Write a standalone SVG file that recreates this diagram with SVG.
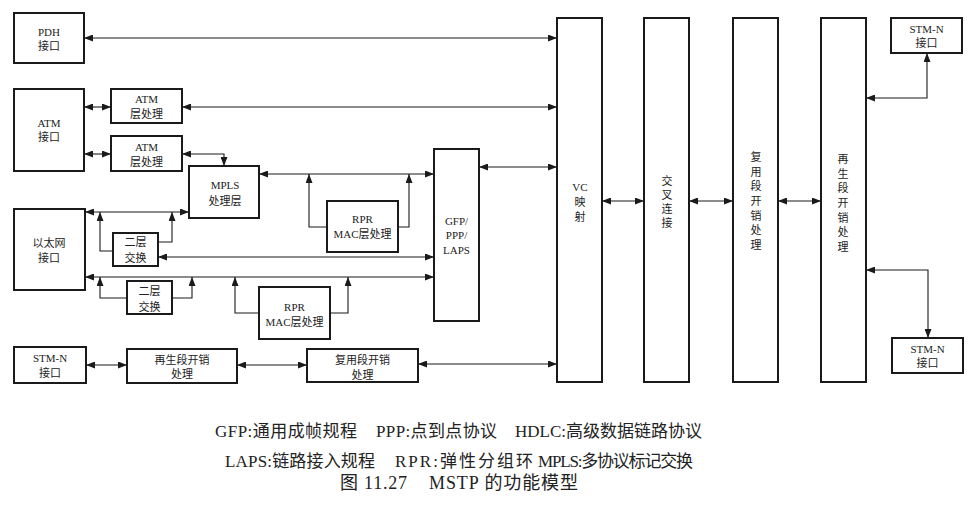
<svg xmlns="http://www.w3.org/2000/svg" width="979" height="508" viewBox="0 0 979 508">
<defs>
<marker id="ah" markerUnits="userSpaceOnUse" markerWidth="9" markerHeight="7" refX="9" refY="3.5" orient="auto-start-reverse"><path d="M0,0 L9,3.5 L0,7 z" fill="#1a1a1a"/></marker>
</defs>
<style>
.box{fill:#fff;stroke:#1a1a1a;stroke-width:2}
.t{font-family:"Liberation Serif","Noto Sans CJK SC",serif;font-size:11px;fill:#222;text-anchor:middle}
.c{fill:none;stroke:#1a1a1a;stroke-width:1.1}
.b{marker-start:url(#ah);marker-end:url(#ah)}
.e{marker-end:url(#ah)}
.cap{font-family:"Liberation Serif","Noto Sans CJK SC",serif;font-size:17px;fill:#222}
.cap3{font-family:"Liberation Serif","Noto Sans CJK SC",serif;font-size:18px;fill:#222}
</style>
<rect width="979" height="508" fill="#fff"/>
<g id="connectors">
<path class="c b" d="M84,38 H557"/>
<path class="c b" d="M84,107 H111"/>
<path class="c b" d="M84,154 H111"/>
<path class="c b" d="M182,107 H557"/>
<path class="c b" d="M182,154 H224 V166"/>
<path class="c b" d="M259,174 H434"/>
<path class="c e" d="M327,227 H309 V174"/>
<path class="c e" d="M398,227 H409 V174"/>
<path class="c b" d="M85,212 H189"/>
<path class="c e" d="M113,251 H100 V212"/>
<path class="c e" d="M158,242 H172 V212"/>
<path class="c b" d="M158,257 H434"/>
<path class="c b" d="M85,277 H434"/>
<path class="c e" d="M127,298 H100 V277"/>
<path class="c e" d="M172,298 H192 V277"/>
<path class="c e" d="M259,313 H235 V277"/>
<path class="c e" d="M330,313 H348 V277"/>
<path class="c b" d="M86,365 H127"/>
<path class="c b" d="M237,365 H307"/>
<path class="c b" d="M418,364 H557"/>
<path class="c b" d="M479,167 H557"/>
<path class="c b" d="M602,201 H644"/>
<path class="c b" d="M689,201 H733"/>
<path class="c b" d="M778,201 H821"/>
<path class="c b" d="M866,98 H927 V53"/>
<path class="c b" d="M866,270 H928 V338"/>
</g>
<g id="pdh"><rect class="box" x="14" y="13" width="70" height="50"/><text class="t" x="49" y="36">PDH</text><text class="t" x="49" y="50">接口</text></g>
<g id="atm-if"><rect class="box" x="14" y="89" width="70" height="82"/><text class="t" x="49" y="127">ATM</text><text class="t" x="49" y="141">接口</text></g>
<g id="atm1"><rect class="box" x="111" y="89" width="71" height="34"/><text class="t" x="146.5" y="103">ATM</text><text class="t" x="146.5" y="118">层处理</text></g>
<g id="atm2"><rect class="box" x="111" y="136" width="71" height="35"/><text class="t" x="146.5" y="151">ATM</text><text class="t" x="146.5" y="166">层处理</text></g>
<g id="mpls"><rect class="box" x="189" y="166" width="70" height="52"/><text class="t" x="225" y="189">MPLS</text><text class="t" x="225" y="205">处理层</text></g>
<g id="rpr1"><rect class="box" x="327" y="201" width="71" height="51"/><text class="t" x="362.5" y="223">RPR</text><text class="t" x="362.5" y="238">MAC层处理</text></g>
<g id="eth"><rect class="box" x="14" y="209" width="71" height="81"/><text class="t" x="49" y="247">以太网</text><text class="t" x="49" y="262">接口</text></g>
<g id="l2sw1"><rect class="box" x="113" y="233" width="45" height="33"/><text class="t" x="135.5" y="246">二层</text><text class="t" x="135.5" y="262">交换</text></g>
<g id="l2sw2"><rect class="box" x="127" y="281" width="45" height="33"/><text class="t" x="149.5" y="295">二层</text><text class="t" x="149.5" y="311">交换</text></g>
<g id="rpr2"><rect class="box" x="259" y="287" width="71" height="52"/><text class="t" x="294.5" y="311">RPR</text><text class="t" x="294.5" y="326">MAC层处理</text></g>
<g id="stm-bl"><rect class="box" x="14" y="347" width="72" height="36"/><text class="t" x="50" y="362">STM-N</text><text class="t" x="50" y="377">接口</text></g>
<g id="rs-oh"><rect class="box" x="127" y="349" width="110" height="34"/><text class="t" x="182" y="364">再生段开销</text><text class="t" x="182" y="378">处理</text></g>
<g id="ms-oh"><rect class="box" x="307" y="349" width="111" height="33"/><text class="t" x="362.5" y="364">复用段开销</text><text class="t" x="362.5" y="379">处理</text></g>
<g id="gfp"><rect class="box" x="434" y="149" width="45" height="172"/><text class="t" x="456.5" y="225">GFP/</text><text class="t" x="456.5" y="239">PPP/</text><text class="t" x="456.5" y="254">LAPS</text></g>
<g id="vc"><rect class="box" x="557" y="18" width="45" height="364"/><text class="t" x="580" y="191">VC</text><text class="t" x="580" y="206">映</text><text class="t" x="580" y="221">射</text></g>
<g id="xc"><rect class="box" x="644" y="18" width="45" height="364"/><text class="t" x="667" y="185">交</text><text class="t" x="667" y="199">叉</text><text class="t" x="667" y="213">连</text><text class="t" x="667" y="227">接</text></g>
<g id="ms"><rect class="box" x="733" y="18" width="45" height="364"/><text class="t" x="756" y="161">复</text><text class="t" x="756" y="176">用</text><text class="t" x="756" y="190">段</text><text class="t" x="756" y="205">开</text><text class="t" x="756" y="220">销</text><text class="t" x="756" y="234">处</text><text class="t" x="756" y="249">理</text></g>
<g id="rs"><rect class="box" x="821" y="18" width="45" height="364"/><text class="t" x="843" y="163">再</text><text class="t" x="843" y="178">生</text><text class="t" x="843" y="192">段</text><text class="t" x="843" y="207">开</text><text class="t" x="843" y="222">销</text><text class="t" x="843" y="236">处</text><text class="t" x="843" y="251">理</text></g>
<g id="stm-tr"><rect class="box" x="891" y="18" width="71" height="35"/><text class="t" x="926.5" y="33">STM-N</text><text class="t" x="926.5" y="47">接口</text></g>
<g id="stm-br"><rect class="box" x="892" y="338" width="71" height="35"/><text class="t" x="927.5" y="353">STM-N</text><text class="t" x="927.5" y="367">接口</text></g>
<g id="caption">
<text class="cap" x="215" y="437" textLength="142">GFP:通用成帧规程</text>
<text class="cap" x="376" y="437" textLength="121">PPP:点到点协议</text>
<text class="cap" x="515" y="437" textLength="187">HDLC:高级数据链路协议</text>
<text class="cap" x="225" y="467" textLength="150">LAPS:链路接入规程</text>
<text class="cap" x="395" y="467" textLength="138">RPR:弹性分组环</text>
<text class="cap" x="538" y="467" textLength="155">MPLS:多协议标记交换</text>
<text class="cap3" x="340" y="489" textLength="67">图 11.27</text>
<text class="cap3" x="429" y="489" textLength="149">MSTP 的功能模型</text>
</g>
</svg>
